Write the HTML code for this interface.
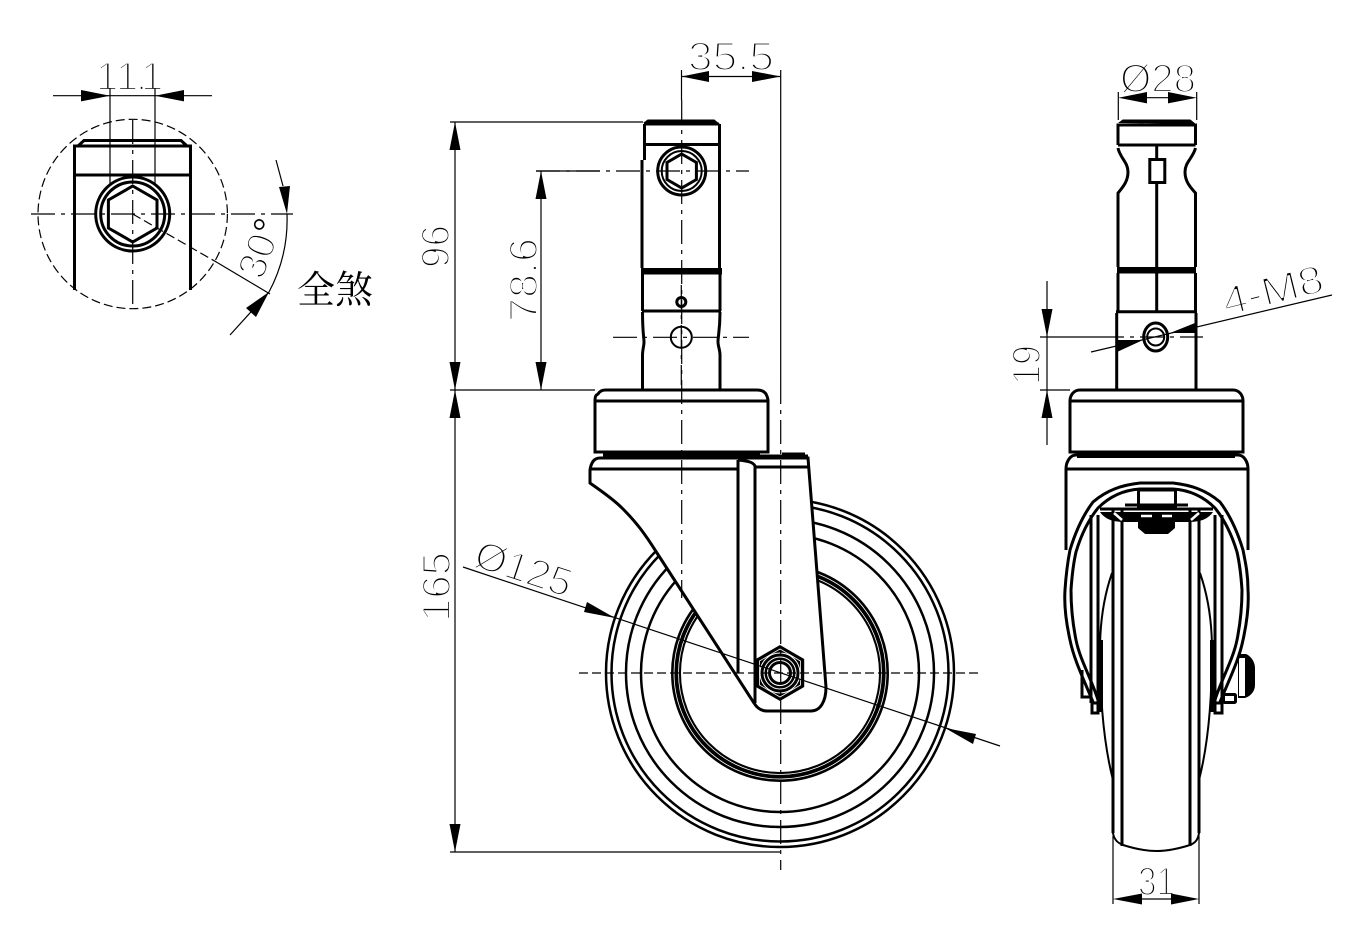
<!DOCTYPE html>
<html><head><meta charset="utf-8"><style>
html,body{margin:0;padding:0;background:#fff}
svg{display:block}
.t{font-family:"Liberation Sans",sans-serif;font-size:40px;fill:#000;stroke:#fff;stroke-width:2.2px}
.k{stroke:#000;stroke-width:3;fill:none}
.w{stroke:#000;stroke-width:3;fill:#fff}
.m{stroke:#000;stroke-width:2;fill:none}
.n{stroke:#000;stroke-width:1.2;fill:none}
.c{stroke:#000;stroke-width:1.2;fill:none;stroke-dasharray:24 6 4 6}
.d{stroke:#000;stroke-width:1.2;fill:none;stroke-dasharray:9 4}
.a{fill:#000;stroke:none}
</style></head><body>
<svg width="1369" height="933" viewBox="0 0 1369 933" xmlns="http://www.w3.org/2000/svg">
<rect width="1369" height="933" fill="#fff"/>

<!-- LEFT VIEW -->
<circle cx="132.7" cy="214" r="94.7" class="d"/>
<path class="k" d="M74.5 290V146H190.5V290M75 175H190M78 146L84 140.500H181L187 146"/>
<circle cx="132.700" cy="214" r="37" class="k"/>
<circle cx="132.700" cy="214" r="32" class="k"/>
<polygon class="k" points="132.700,186 157,200 157,228 132.700,242 108.400,228 108.400,200"/>
<text class="t" x="96 116 136 141" y="90">11.1</text>
<path class="n" d="M110 88V186M155 88V186M53 95.700H212"/>
<polygon class="a" points="81,90 110,95.700 81,101.400"/>
<polygon class="a" points="184,90 155,95.700 184,101.400"/>
<path class="c" d="M31 214H293M132.700 120V310"/>
<path class="d" d="M132.700 214L218 263"/>
<path class="n" d="M218 263L270 294"/>
<path class="n" d="M276 160L283 186M287 214A154 154 0 0 1 269 292L230 335"/>
<polygon class="a" points="287,214 279,187 290,186"/>
<polygon class="a" points="269,292 246,308 256,317"/>
<text class="t" transform="translate(262.500 281) rotate(-70)" x="0" y="0" textLength="44" lengthAdjust="spacingAndGlyphs">30</text>
<text class="t" style="stroke-width:.4px" transform="translate(262.500 281) rotate(-70)" x="44" y="0">°</text>
<text x="297" y="303" font-size="38" font-family="'Liberation Serif','Noto Serif CJK SC',serif" fill="#000">全煞</text>

<!-- MIDDLE VIEW: wheel -->
<g fill="none" stroke="#000">
<circle cx="780" cy="673" r="174" stroke-width="2.500"/>
<circle cx="780" cy="673" r="168.500" stroke-width="2.500"/>
<circle cx="780" cy="673" r="154" stroke-width="2.500"/>
<circle cx="780" cy="673" r="139" stroke-width="2.500"/>
<circle cx="780" cy="673" r="104" stroke-width="10"/>
<circle cx="780" cy="673" r="101.500" stroke="#fff" stroke-width="0.800"/>
<circle cx="780" cy="673" r="106" stroke="#fff" stroke-width="0.800"/>
</g>

<!-- fork -->
<path class="w" d="M590 470C591 463 594 458 600 458H808L826 687C826 702 820 711 811 711H767C761 711 757 708 754 703L657 553C645 534 637 523 622 508C612 498 601 491 590 483Z"/>
<path class="k" d="M590 469H738M755 467H808"/>
<path class="k" d="M738 460V673M755 466V703M738 460C748 461 753 462 755 466"/>
<path class="k" d="M760 456H808"/>
<rect x="782" y="452.500" width="23" height="3.500" fill="#000"/>
<rect x="603" y="452" width="157" height="6" fill="#000"/>

<!-- base -->
<path class="w" d="M595 452V401C595 396 596 395 598 394C600 391 602 390 606 390H757C761 390 764 391 766 394C767 396 768 398 768 401V452Z"/>
<path class="k" d="M595 401H768"/>

<!-- stem -->
<path class="k" d="M642.500 390V355C642.500 350 644 346 644 342C644 338 642.500 332 642.500 312M720 390V355C720 350 718 346 718 342C718 336 720 330 720 312"/>
<path class="k" d="M642 311H721"/>
<rect x="641" y="268" width="81" height="6.500" fill="#000"/>
<path class="k" d="M642.500 274V311M720 274V311M642 268V160M719.500 268V160M644.500 160V124M719.500 160V124"/>
<path class="k" d="M643 144.500H720M644 124H719"/>
<path d="M646 122L648 120.500H714L717 123Z" fill="#000" stroke="#000" stroke-width="2"/>
<circle cx="681.700" cy="171" r="24" class="k" stroke-width="3.500"/>
<circle cx="681.700" cy="171" r="20" class="m"/>
<polygon class="k" points="681.700,154 696.400,162.500 696.400,179.500 681.700,188 667,179.500 667,162.500"/>
<circle cx="681.300" cy="302" r="4.500" class="k"/>
<circle cx="681.300" cy="337.300" r="10.500" class="m"/>

<!-- nut -->
<polygon points="780,645 804.200,659 804.200,687 780,701 755.800,687 755.800,659" fill="#000"/>
<polygon points="780,649 800.500,661 800.500,685 780,697 759.500,685 759.500,661" fill="none" stroke="#fff" stroke-width="0.800"/>
<circle cx="780" cy="673" r="20" fill="none" stroke="#fff" stroke-width="1"/>
<circle cx="780" cy="673" r="16" fill="none" stroke="#fff" stroke-width="1"/>
<circle cx="780" cy="673" r="12.500" fill="none" stroke="#fff" stroke-width="1"/>
<circle cx="780" cy="673" r="9" fill="#fff"/>

<!-- middle dims text -->
<text class="t" x="688" y="70" textLength="86" lengthAdjust="spacingAndGlyphs">35.5</text>
<text class="t" transform="translate(449 268) rotate(-90)" x="0" y="0" textLength="43" lengthAdjust="spacingAndGlyphs">96</text>
<text class="t" transform="translate(450 622) rotate(-90)" x="0" y="0" textLength="70" lengthAdjust="spacingAndGlyphs">165</text>
<text class="t" transform="translate(537 322) rotate(-90)" x="0" y="0" textLength="84" lengthAdjust="spacingAndGlyphs">78.6</text>
<text class="t" transform="translate(472 566) rotate(18.400)" x="0" y="0" textLength="100" lengthAdjust="spacingAndGlyphs">Ø125</text>

<!-- center lines middle -->
<path class="c" d="M681.700 100V598"/>
<path class="n" d="M681.500 70V100"/>
<path class="n" d="M780.700 70V380"/>
<path class="c" d="M780.700 380V870"/>
<path class="c" d="M536 171H749"/>
<path class="c" d="M613 337.300H749"/>
<path class="c" d="M681.300 285V385"/>
<path class="d" d="M579 673H982"/>

<!-- middle dims -->
<path class="n" d="M681.500 76.500H780.700"/>
<polygon class="a" points="681.500,76.500 709,71 709,82"/>
<polygon class="a" points="780.700,76.500 752,71 752,82"/>
<path class="n" d="M450 122H643M450 390H595M450 852H780M536 171H600M455 122V852M541 171V390"/>
<polygon class="a" points="455,122 449.500,150 460.500,150"/>
<polygon class="a" points="455,390 449.500,362 460.500,362"/>
<polygon class="a" points="455,390 449.500,418 460.500,418"/>
<polygon class="a" points="455,852 449.500,824 460.500,824"/>
<polygon class="a" points="541,171 535.500,199 546.500,199"/>
<polygon class="a" points="541,390 535.500,362 546.500,362"/>
<path class="n" d="M463 567L1000 746"/>
<polygon class="a" points="615,618 587,602 584,612"/>
<polygon class="a" points="945,728 973,744 976,734"/>

<!-- RIGHT VIEW -->
<!-- tyre -->
<path class="m" d="M1112 573C1104 596 1100 620 1100 650C1100 700 1104 745 1113 780V833C1114 840 1118 843 1123 845C1148 853 1165 853 1190 845C1195 843 1198 840 1199 833V780C1208 745 1212 700 1212 650C1212 620 1208 596 1200 573"/>
<path class="k" d="M1113 510V833M1122 510V846M1190 510V846M1199 510V833"/>
<path class="k" d="M1091 515V703M1098 515V703M1215 515V703M1222 515V703"/>
<path d="M1099 640H1103V712H1099ZM1210 640H1214V712H1210Z" fill="#000"/>

<!-- fork sides -->
<path class="k" d="M1066 550V469C1066 462 1070 455 1076 455H1238C1244 455 1248 462 1248 469V550"/>
<path class="k" d="M1065 469H1249"/>
<rect x="1077" y="452" width="158" height="6" fill="#000"/>

<!-- bracket -->
<rect x="1138.500" y="490" width="37" height="16" fill="#fff" stroke="#000" stroke-width="3"/>
<path d="M1100 512C1105 519 1112 522 1125 522H1188C1201 522 1208 519 1213 512Z" fill="#000"/>
<path d="M1114 513L1122 520M1199 513L1191 520M1141 516H1152M1162 516H1172" stroke="#fff" stroke-width="2.500" fill="none"/>
<path d="M1138 520H1175V528L1168 534H1145L1138 528Z" fill="#000"/>
<path class="k" d="M1100 509H1213M1125 505H1188"/>

<!-- nut side (behind arch) -->
<path d="M1238 654H1246C1251 656 1255 662 1255 668V685C1255 691 1251 696 1245 698H1238Z" fill="#000"/>
<rect x="1239" y="658" width="6" height="38" fill="#fff"/>

<!-- lugs -->
<path class="k" d="M1082 670V697H1091M1092 703V713H1098V703H1092Z"/>
<path class="k" d="M1215 703V713H1222V703Z"/>
<rect x="1223.500" y="694.500" width="12" height="8" rx="1" fill="#fff" stroke="#000" stroke-width="3"/>

<!-- arch -->
<path class="k" d="M1093 702C1084 680 1074 660 1070 640C1066 622 1064 605 1065 590C1066 575 1067 565 1070 550C1076 530 1084 514 1093 502C1107 490 1122 485 1140 483H1173C1191 485 1206 490 1220 502C1229 514 1237 530 1243 550C1246 565 1248 575 1248 590C1249 605 1247 622 1243 640C1239 660 1229 680 1220 702"/>
<path class="k" d="M1098 700C1092 680 1080 660 1076 640C1072 620 1071 605 1071 590C1072 575 1073 565 1076 552C1082 532 1090 518 1098 508C1110 496 1124 490 1140 489H1173C1189 490 1203 496 1215 508C1223 518 1231 532 1237 552C1240 565 1241 575 1242 590C1242 605 1241 620 1237 640C1233 660 1221 680 1215 700"/>

<!-- right stem & base -->
<path class="w" d="M1070 452V401C1070 395 1074 390 1080 390H1233C1239 390 1243 395 1243 401V452Z"/>
<path class="k" d="M1070 401H1243"/>
<path class="k" d="M1116.700 390V313M1196 390V313M1116 311.700H1197"/>
<rect x="1117" y="267" width="79" height="6.500" fill="#000"/>
<path class="k" d="M1118 273V311M1195.500 273V311"/>
<path class="k" d="M1118 267V193C1122 188 1128 182 1128 172C1128 162 1120 158 1118 148M1195.500 267V193C1191 188 1185 182 1185 172C1185 162 1193 158 1195.500 148"/>
<path class="k" d="M1118 145H1195.500M1118 145V125H1195.500V145"/>
<path d="M1121 122L1123 120.500H1190L1193 123Z" fill="#000" stroke="#000" stroke-width="2"/>
<path class="k" d="M1156.700 145V158M1156.700 184V311"/>
<rect x="1149.800" y="159.500" width="15" height="23" fill="#fff" stroke="#000" stroke-width="3"/>
<ellipse cx="1155.700" cy="337" rx="12" ry="14" fill="#fff" stroke="#000" stroke-width="3"/>
<circle cx="1155.700" cy="337" r="8.500" class="m"/>
<path class="c" d="M1100 337H1203"/>

<!-- right dims text -->
<text class="t" x="1120" y="92" textLength="76" lengthAdjust="spacingAndGlyphs">Ø28</text>
<text class="t" x="1138" y="895" textLength="37" lengthAdjust="spacingAndGlyphs">31</text>
<text class="t" transform="translate(1040 385) rotate(-90)" x="0" y="0" textLength="40" lengthAdjust="spacingAndGlyphs">19</text>
<text class="t" transform="translate(1226 316) rotate(-14)" x="0" y="0" textLength="103" lengthAdjust="spacingAndGlyphs">4-M8</text>

<!-- right dims -->
<path class="n" d="M1118.300 92V120M1196.700 92V120M1147 97.700H1168"/>
<polygon class="a" points="1118.300,97.700 1147,92 1147,103.400"/>
<polygon class="a" points="1196.700,97.700 1168,92 1168,103.400"/>
<path class="n" d="M1113 836V904M1199 836V904M1142 899H1171"/>
<polygon class="a" points="1113,899 1142,893.500 1142,904.500"/>
<polygon class="a" points="1199,899 1171,893.500 1171,904.500"/>
<path class="n" d="M1047 281V445M1040 337H1100M1040 390H1070"/>
<polygon class="a" points="1047,337 1041.500,309 1052.500,309"/>
<polygon class="a" points="1047,390 1041.500,418 1052.500,418"/>
<path class="n" d="M1091 352L1332 295"/>
<polygon class="a" points="1143,340 1117,340 1117,352"/>
<polygon class="a" points="1170,333 1195,323 1195,333"/>
</svg>
</body></html>
